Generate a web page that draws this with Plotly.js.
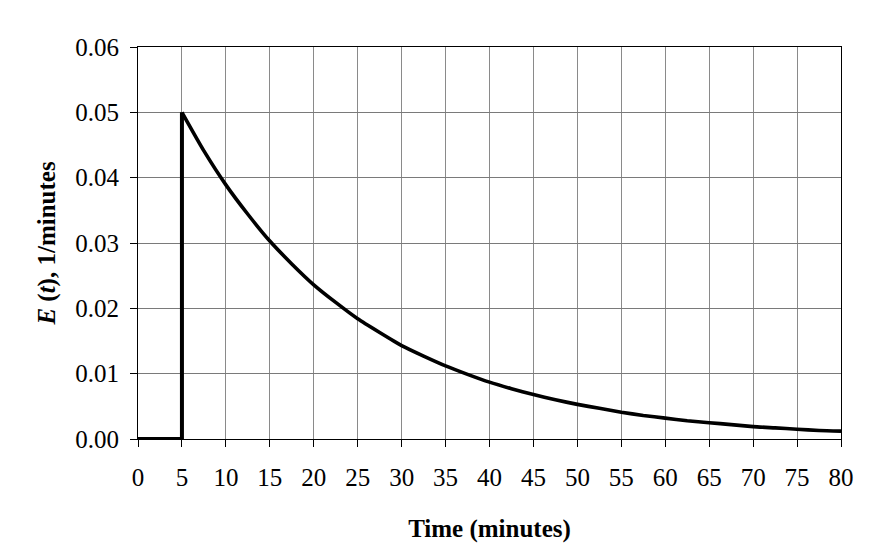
<!DOCTYPE html>
<html>
<head>
<meta charset="utf-8">
<script src="https://cdn.plot.ly/plotly-3.0.1.min.js"></script>
<style>html,body{margin:0;padding:0;background:#fff}#chart{width:878px;height:543px}</style>
</head>
<body>
<div id="chart"></div>
<script>
// Step part (before pulse) and decay part
var stepTime = [0, 5, 5];
var stepE = [0, 0, 0.05];
var decayTime = [5, 7.5, 10, 12.5, 15, 17.5, 20, 22.5, 25, 27.5, 30, 32.5, 35, 37.5, 40, 42.5, 45, 47.5, 50, 52.5, 55, 57.5, 60, 62.5, 65, 67.5, 70, 72.5, 75, 77.5, 80];
var decayE = [0.0500, 0.0441, 0.0389, 0.0344, 0.0303, 0.0268, 0.0236, 0.0209, 0.0184, 0.0163, 0.0143, 0.0127, 0.0112, 0.0099, 0.0087, 0.0077, 0.0068, 0.0060, 0.0053, 0.0047, 0.0041, 0.0036, 0.0032, 0.0028, 0.0025, 0.0022, 0.0019, 0.0017, 0.0015, 0.0013, 0.0012];
var xTicks = [0,5,10,15,20,25,30,35,40,45,50,55,60,65,70,75,80];
var yTicks = [0, 0.01, 0.02, 0.03, 0.04, 0.05, 0.06];

var traces = [
  {x: stepTime, y: stepE, mode: 'lines', line: {color: '#000', width: 4, shape: 'linear'}, hoverinfo: 'skip', cliponaxis: false},
  {x: decayTime, y: decayE, mode: 'lines', line: {color: '#000', width: 3.6, shape: 'spline', smoothing: 0.6}, hoverinfo: 'skip', cliponaxis: false}
];

var font = {family: '"Liberation Serif", "Times New Roman", serif', size: 25, color: '#000'};
var titleFont = {family: '"Liberation Serif", "Times New Roman", serif', size: 25, color: '#000'};
var layout = {
  width: 878, height: 543,
  margin: {l: 138, r: 37, t: 47, b: 104},
  paper_bgcolor: '#fff', plot_bgcolor: '#fff',
  showlegend: false,
  font: font,
  xaxis: {
    range: [0, 80], tickmode: 'array', tickvals: xTicks, ticktext: xTicks.map(String),
    showgrid: true, gridcolor: '#8a8a8a', gridwidth: 1,
    zeroline: false, showline: true, linecolor: '#000', linewidth: 1, mirror: true,
    ticks: 'outside', ticklen: 7, tickcolor: '#000', tickwidth: 1,
    ticklabelstandoff: 9,
    tickfont: font,
    title: {text: '<b>Time (minutes)</b>', font: titleFont, standoff: 32}
  },
  yaxis: {
    range: [0, 0.06], tickmode: 'array', tickvals: yTicks, ticktext: yTicks.map(function(v){return v.toFixed(2);}),
    showgrid: true, gridcolor: '#7a7a7a', gridwidth: 1,
    zeroline: false, showline: true, linecolor: '#000', linewidth: 1, mirror: true,
    ticks: 'outside', ticklen: 7, tickcolor: '#000', tickwidth: 1,
    ticklabelstandoff: 6,
    tickfont: font,
    title: {text: '<b><i>E</i> (<i>t</i>), 1/minutes</b>', font: titleFont, standoff: 12}
  }
};
Plotly.newPlot('chart', traces, layout, {staticPlot: true, displayModeBar: false});
</script>
</body>
</html>
